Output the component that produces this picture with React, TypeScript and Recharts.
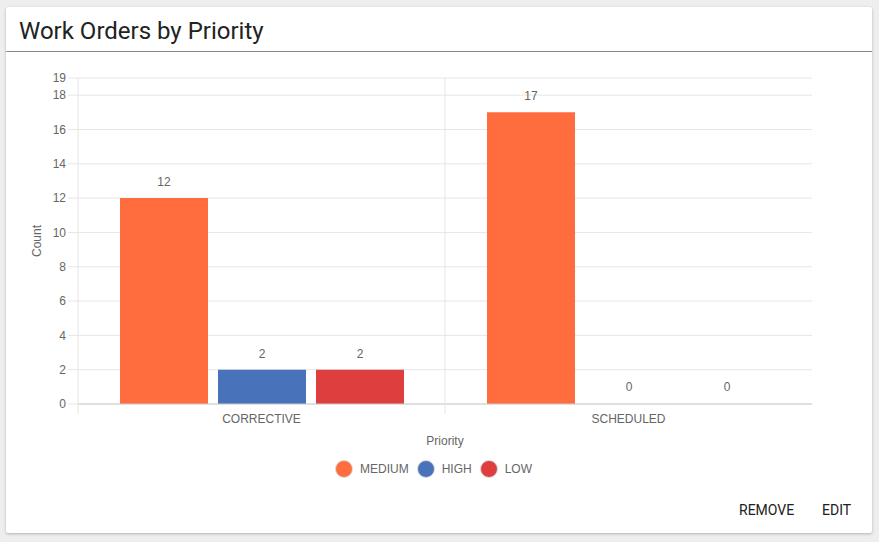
import React from 'react';
import { BarChart, Bar, XAxis, YAxis, CartesianGrid, LabelList, Cell } from 'recharts';

const categories = ['CORRECTIVE', 'SCHEDULED'];
const mediumValues = [12, 17];
const highValues = [2, 0];
const lowValues = [2, 0];
const yTicks = [0, 2, 4, 6, 8, 10, 12, 14, 16, 18, 19];
const seriesNames = ['MEDIUM', 'HIGH', 'LOW'];
const seriesValues = [mediumValues, highValues, lowValues];
const seriesColors = ['#FF6C3E', '#4872B9', '#DE3E3E'];

const data = categories.map((c, i) => ({
  name: c,
  MEDIUM: mediumValues[i],
  HIGH: highValues[i],
  LOW: lowValues[i],
}));

const FONT = '"Liberation Sans", Arial, Helvetica, sans-serif';
const GRID = '#e6e6e6';

const PLOT_TOP = 78;

const XTick = (props: any) => {
  const { x, y, payload } = props;
  const off = payload && typeof payload.offset === 'number' && payload.offset > 0 ? payload.offset : 183.5;
  const lx = x - off;
  return (
    <g>
      <line x1={lx} x2={lx} y1={PLOT_TOP} y2={y + 10} stroke={GRID} strokeWidth={1} />
      <text x={x} y={y + 19} textAnchor="middle" fill="#666" fontSize={12} fontFamily={FONT}>
        {payload.value}
      </text>
    </g>
  );
};

const btnStyle: React.CSSProperties = {
  position: 'absolute',
  top: 500,
  fontFamily: 'Roboto, sans-serif',
  fontWeight: 400,
  fontSize: 14,
  lineHeight: '20px',
  color: '#212121',
};

export default function App() {
  return (
    <div style={{ position: 'fixed', left: 0, top: 0, width: 879, height: 542, background: '#eeeeee', overflow: 'hidden' }}>
      <div
        style={{
          position: 'absolute',
          left: 6,
          top: 7,
          width: 866,
          height: 526,
          background: '#fff',
          borderRadius: 2,
          boxShadow: '0 1px 3px rgba(0,0,0,0.25)',
        }}
      />
      <div
        style={{
          position: 'absolute',
          left: 19,
          top: 15,
          fontFamily: 'Roboto, sans-serif',
          fontSize: 24,
          lineHeight: '32px',
          color: '#222',
        }}
      >
        Work Orders by Priority
      </div>
      <div style={{ position: 'absolute', left: 6, top: 51, width: 866, height: 1, background: '#888' }} />
      <div style={{ position: 'absolute', left: 0, top: 0 }}>
        <BarChart
          width={879}
          height={542}
          data={data}
          margin={{ top: PLOT_TOP, right: 67, left: 28, bottom: 88 }}
          barSize={88}
          barGap={10}
        >
          <CartesianGrid vertical={false} stroke={GRID} />
          <XAxis
            dataKey="name"
            tickLine={false}
            tickSize={0}
            tickMargin={0}
            height={50}
            axisLine={{ stroke: '#ccc' }}
            tick={<XTick />}
            interval={0}
            label={{
              content: (p: any) => {
                const vb = p.viewBox || {};
                return (
                  <text x={vb.x + vb.width / 2} y={vb.y + 41} textAnchor="middle" fill="#666" fontSize={12} fontFamily={FONT}>
                    Priority
                  </text>
                );
              },
            }}
          />
          <YAxis
            width={50}
            domain={[0, 19]}
            ticks={yTicks}
            interval={0}
            axisLine={false}
            tickLine={{ stroke: GRID }}
            tickSize={10}
            tickMargin={2}
            tick={{ fill: '#666', fontSize: 12, fontFamily: FONT }}
            label={{
              content: (p: any) => {
                const vb = p.viewBox || {};
                const cx = vb.x + 13;
                const cy = vb.y + vb.height / 2;
                return (
                  <text x={cx} y={cy} transform={`rotate(-90 ${cx} ${cy})`} textAnchor="middle" fill="#666" fontSize={12} fontFamily={FONT}>
                    Count
                  </text>
                );
              },
            }}
          />
          {seriesNames.map((s, i) => (
            <Bar key={s} dataKey={s} fill={seriesColors[i]} isAnimationActive={false} minPointSize={1}>
              {seriesValues[i].map((v, j) => (
                <Cell key={j} fill={seriesColors[i]} fillOpacity={v === 0 ? 0 : 1} />
              ))}
              <LabelList dataKey={s} position="top" offset={12} fill="#666" fontSize={12} fontFamily={FONT} />
            </Bar>
          ))}
        </BarChart>
      </div>
      <div
        style={{
          position: 'absolute',
          left: 0,
          top: 460,
          width: 867,
          display: 'flex',
          justifyContent: 'center',
          alignItems: 'center',
          fontFamily: FONT,
          fontSize: 12,
          color: '#666',
        }}
      >
        {seriesNames.map((s, i) => (
          <div key={s} style={{ display: 'flex', alignItems: 'center', marginRight: i < seriesNames.length - 1 ? 8 : 0 }}>
            <span
              style={{
                display: 'inline-block',
                width: 16,
                height: 16,
                borderRadius: '50%',
                background: seriesColors[i],
                border: '1px solid #ddd',
                marginRight: 7,
              }}
            />
            <span>{s}</span>
          </div>
        ))}
      </div>
      <div style={{ ...btnStyle, left: 739 }}>REMOVE</div>
      <div style={{ ...btnStyle, left: 822 }}>EDIT</div>
    </div>
  );
}
